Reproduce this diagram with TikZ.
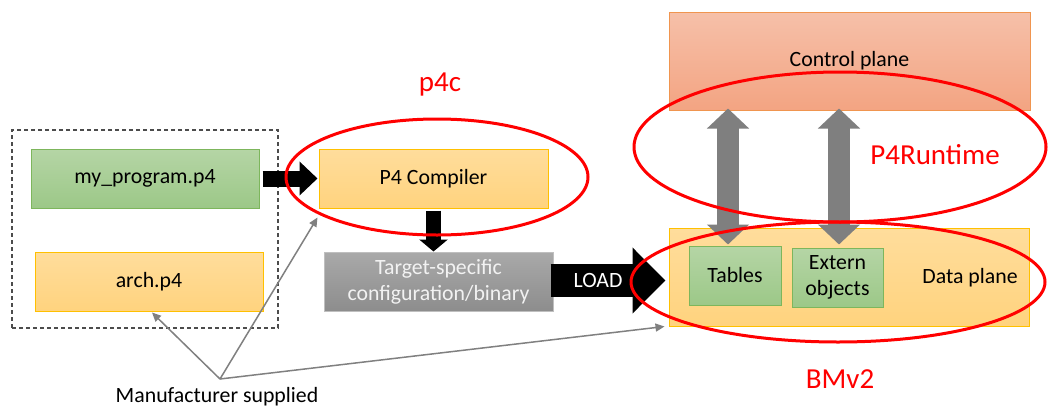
\documentclass[tikz,border=0pt]{standalone}
\usepackage{fontspec}
\setmainfont{Carlito}
\usetikzlibrary{arrows.meta,shapes.geometric,calc}

\definecolor{grnTop}{HTML}{B5D5A5}
\definecolor{grnBot}{HTML}{9CC888}
\definecolor{grnLine}{HTML}{7DB65C}
\definecolor{orgTop}{HTML}{FFDD9C}
\definecolor{orgBot}{HTML}{FFD37E}
\definecolor{orgLine}{HTML}{FFC000}
\definecolor{salTop}{HTML}{F6C0A9}
\definecolor{salBot}{HTML}{F3A482}
\definecolor{salLine}{HTML}{F0954F}
\definecolor{gryTop}{HTML}{A9A9A9}
\definecolor{gryBot}{HTML}{8D8D8D}
\definecolor{gryLine}{HTML}{BFBFBF}
\definecolor{blockGray}{HTML}{7F7F7F}
\definecolor{thinGray}{HTML}{808080}
\definecolor{hiRed}{HTML}{FF0000}

\tikzset{
  txt/.style={font=\fontsize{21.8}{26}\selectfont},
  redtxt/.style={font=\fontsize{29}{34}\selectfont, text=hiRed},
  box/.style={txt, rectangle, inner sep=0pt, align=center},
  greenbox/.style={box, top color=grnTop, bottom color=grnBot, draw=grnLine, line width=1pt},
  orangebox/.style={box, top color=orgTop, bottom color=orgBot, draw=orgLine, line width=1pt},
  salmonbox/.style={box, top color=salTop, bottom color=salBot, draw=salLine, line width=1pt},
  graybox/.style={box, top color=gryTop, bottom color=gryBot, draw=gryLine, line width=1pt, text=white!95!black},
  ring/.style={ellipse, draw=hiRed, line width=3pt, inner sep=0pt},
  blackblock/.style={draw=black, line width=#1},
  thinarrow/.style={draw=thinGray, line width=1.5pt, -{Triangle[length=9pt,width=8pt]}},
}

\begin{document}
\begin{tikzpicture}[x=1pt,y=-1pt]
  \fill[white] (0,0) rectangle (1049,407);
  \useasboundingbox (0,0) rectangle (1049,407);

  % source files supplied to the compiler
  \node[draw=black!70, dashed, dash pattern=on 4pt off 3pt, line width=1.3pt,
        minimum width=266pt, minimum height=198pt, inner sep=0pt] (src) at (145,229) {};
  \node[greenbox, minimum width=228pt, minimum height=59pt] (myprog) at (145,178.5) {my\_program.p4};
  \node[orangebox, minimum width=228pt, minimum height=59pt] (arch) at (149,281.5) {arch.p4};

  % compiler and its output
  \node[orangebox, minimum width=229pt, minimum height=59pt] (comp) at (433.5,178.5) {P4 Compiler};
  \node[graybox, minimum width=229pt, minimum height=59pt] (target) at (438.5,281.5) {Target-specific\\configuration/binary};

  % switch: control plane and data plane
  \node[salmonbox, minimum width=361pt, minimum height=98pt] (cp) at (849.5,61) {Control plane};
  \node[orangebox, minimum width=360pt, minimum height=98pt] (dp) at (849,277) {};
  \node[greenbox, minimum width=92pt, minimum height=59pt] (tables) at (735,275.5) {Tables};
  \node[greenbox, minimum width=91pt, minimum height=59pt] (extern) at (837.5,277.5) {Extern\\objects};
  \node[txt] (dplabel) at (970,278) {Data plane};

  % block arrows
  \draw[blackblock=16pt, -{Triangle[length=18pt,width=33pt]}, shorten <=3pt, shorten >=1pt]
    (myprog.east) -- (comp.west);
  \draw[blackblock=15pt, -{Triangle[length=12pt,width=28pt]}, shorten <=2pt]
    (comp.south) -- (comp.south |- target.north);
  \coordinate (loadA) at ($(target.east)+(-3,-1)$);
  \coordinate (loadB) at ($(dp.west |- loadA)+(-3,0)$);
  \draw[blackblock=33pt, -{Triangle[length=33pt,width=64pt]}] (loadA) -- (loadB);
  \node[txt, text=white] (load) at (598,280) {LOAD};

  % runtime API arrows
  \coordinate (t1) at ($(tables.north)+(-7,-1)$);
  \coordinate (e1) at ($(extern.north)+(1.5,-3)$);
  \foreach \p/\n in {t1/ta, e1/ea}{
    \coordinate (\n) at (\p |- cp.south);
    \draw[draw=blockGray, line width=22pt,
          {Triangle[length=20pt,width=41pt]}-{Triangle[length=20pt,width=41pt]},
          shorten <=-2pt] (\n) -- (\p);
  }

  % manufacturer supplied parts
  \node[txt] (mfr) at (217,397) {Manufacturer supplied};
  \coordinate (mfrpt) at (220,379);
  \draw[thinarrow] (mfrpt) -- ($(arch.south)+(3,1)$);
  \draw[thinarrow] (mfrpt) -- ($(comp.south west)+(-1,9)$);
  \draw[thinarrow] (mfrpt) -- ($(dp.south west)+(-4,0)$);

  % highlighted components
  \node[ring, minimum width=302pt, minimum height=116pt] (ringc) at (437,177) {};
  \node[ring, minimum width=412pt, minimum height=150pt] (ringr) at (840,147) {};
  \node[ring, minimum width=414pt, minimum height=120pt] (ringb) at (838,282) {};
  \node[redtxt] (p4c) at (440,85) {p4c};
  \node[redtxt] (p4rt) at (935,155) {P4Runtime};
  \node[redtxt] (bmv2) at (840,379) {BMv2};
\end{tikzpicture}
\end{document}
